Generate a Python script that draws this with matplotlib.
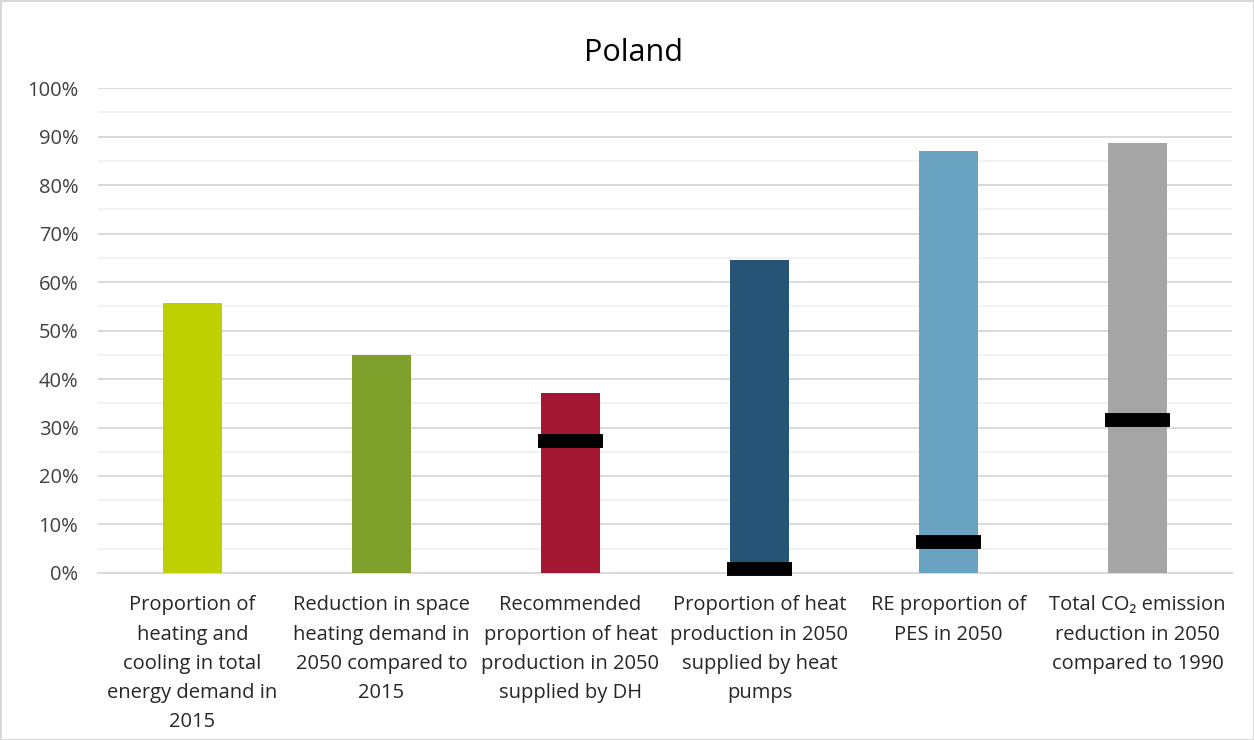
import matplotlib.pyplot as plt
from matplotlib.ticker import MultipleLocator, PercentFormatter

plt.rcParams['font.family'] = ['Open Sans', 'DejaVu Sans']

categories = [
    'Proportion of\nheating and\ncooling in total\nenergy demand in\n2015',
    'Reduction in space\nheating demand in\n2050 compared to\n2015',
    'Recommended\nproportion of heat\nproduction in 2050\nsupplied by DH',
    'Proportion of heat\nproduction in 2050\nsupplied by heat\npumps',
    'RE proportion of\nPES in 2050',
    'Total CO\u2082 emission\nreduction in 2050\ncompared to 1990',
]
values = [0.557, 0.449, 0.371, 0.645, 0.870, 0.887]
markers = [None, None, 0.273, 0.009, 0.063, 0.316]
colors = ['#BFD000', '#7FA12B', '#A31733', '#265476', '#69A3C1', '#A5A5A5']

fig = plt.figure(figsize=(12.54, 7.40), dpi=100)
fig.patch.set_edgecolor('#d9d9d9')
fig.patch.set_linewidth(2)
ax = fig.add_axes([0.078, 0.2257, 0.9045, 0.6553])

x = list(range(len(categories)))
ax.bar(x, values, width=0.31, color=colors, zorder=3)

for xi, m in zip(x, markers):
    if m is not None:
        ax.hlines(m, xi - 0.17, xi + 0.17, colors='black', linewidth=10,
                  zorder=4, clip_on=False)

ax.set_ylim(0, 1)
ax.set_xlim(-0.5, len(categories) - 0.5)
ax.yaxis.set_major_locator(MultipleLocator(0.1))
ax.yaxis.set_minor_locator(MultipleLocator(0.05))
ax.yaxis.set_major_formatter(PercentFormatter(1.0, decimals=0))
ax.grid(axis='y', which='major', color='#d9d9d9', linewidth=1.4, zorder=0)
ax.grid(axis='y', which='minor', color='#f2f2f2', linewidth=1.4, zorder=0)
ax.set_axisbelow(True)

for s in ['top', 'right', 'left']:
    ax.spines[s].set_visible(False)
ax.spines['bottom'].set_color('#d9d9d9')
ax.spines['bottom'].set_linewidth(1.4)

ax.set_xticks(x)
ax.set_xticklabels(categories, fontsize=14.5, color='#262626', linespacing=1.62)
ax.tick_params(axis='x', length=0, pad=16)
ax.tick_params(axis='y', which='both', length=0, pad=14, labelsize=14.5,
               labelcolor='#404040')

fig.text(0.505, 0.928, 'Poland', fontsize=22, color='black',
         ha='center', va='center')

fig.savefig('out.png', dpi=100, edgecolor=fig.get_edgecolor())
